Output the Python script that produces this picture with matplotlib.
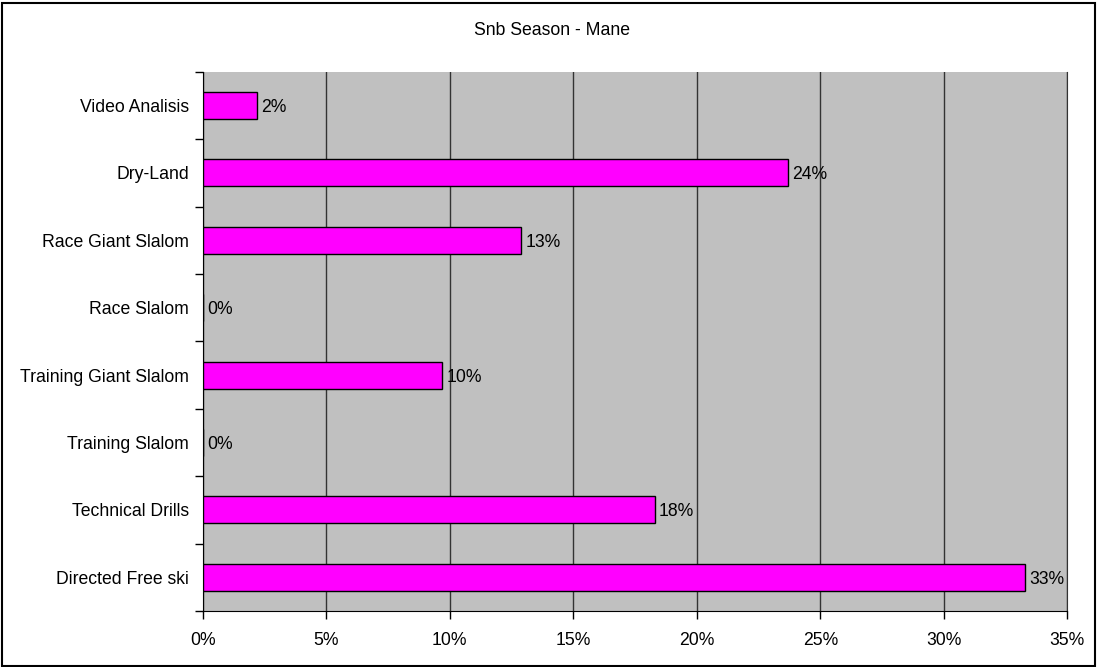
import numpy as np
import matplotlib.pyplot as plt
from matplotlib.patches import Rectangle
from matplotlib.ticker import FuncFormatter, MultipleLocator

plt.rcParams['font.family'] = ['Liberation Sans', 'DejaVu Sans']

# Share of season time per activity (percent), bottom to top
activities = ['Directed Free ski', 'Technical Drills', 'Training Slalom',
              'Training Giant Slalom', 'Race Slalom', 'Race Giant Slalom',
              'Dry-Land', 'Video Analisis']
shares = [33.3, 18.3, 0.0, 9.7, 0.0, 12.9, 23.7, 2.2]
x_ticks = [0, 5, 10, 15, 20, 25, 30, 35]

FS = 12.7

fig = plt.figure(figsize=(10.98, 6.67), dpi=100)
fig.patch.set_facecolor('white')

# border around the whole chart
fig.patches.append(Rectangle((0.002, 0.002), 0.995, 0.994, transform=fig.transFigure,
                             fill=False, edgecolor='black', linewidth=1.5))

ax = fig.add_axes([0.1846, 0.0840, 0.7875, 0.8085])
ax.set_facecolor('#C0C0C0')

y = np.arange(len(activities))
bars = ax.barh(y, shares, height=0.4, color='#FF00FF', edgecolor='black',
               linewidth=1.0, zorder=3)

for yi, v in zip(y, shares):
    ax.annotate(f'{v:.0f}%', xy=(v, yi), xytext=(3, -1.5), textcoords='offset points',
                va='center', ha='left', fontsize=FS, color='black', zorder=4)

ax.set_xlim(0, 35)
ax.set_ylim(-0.5, len(activities) - 0.5)
ax.set_xticks(x_ticks)
ax.xaxis.set_major_formatter(FuncFormatter(lambda v, p: f'{v:.0f}%'))
ax.grid(axis='x', color='#333333', linewidth=1.0, zorder=1)

# category labels in the middle, tick marks on the boundaries
ax.set_yticks(y)
ax.set_yticklabels(activities)
ax.yaxis.set_minor_locator(MultipleLocator(1, offset=0.5))
ax.tick_params(axis='y', which='major', length=0, pad=10, labelsize=FS)
ax.tick_params(axis='y', which='minor', length=6, width=1.0, direction='out')
ax.tick_params(axis='x', which='major', length=6, width=1.0, direction='out',
               pad=9, labelsize=FS)

ax.spines['top'].set_visible(False)
ax.spines['right'].set_color('#333333')
ax.spines['left'].set_color('black')
ax.spines['bottom'].set_color('black')

fig.text(0.503, 0.955, 'Snb Season - Mane', ha='center', va='center', fontsize=FS)

fig.savefig('out.png', dpi=100)
